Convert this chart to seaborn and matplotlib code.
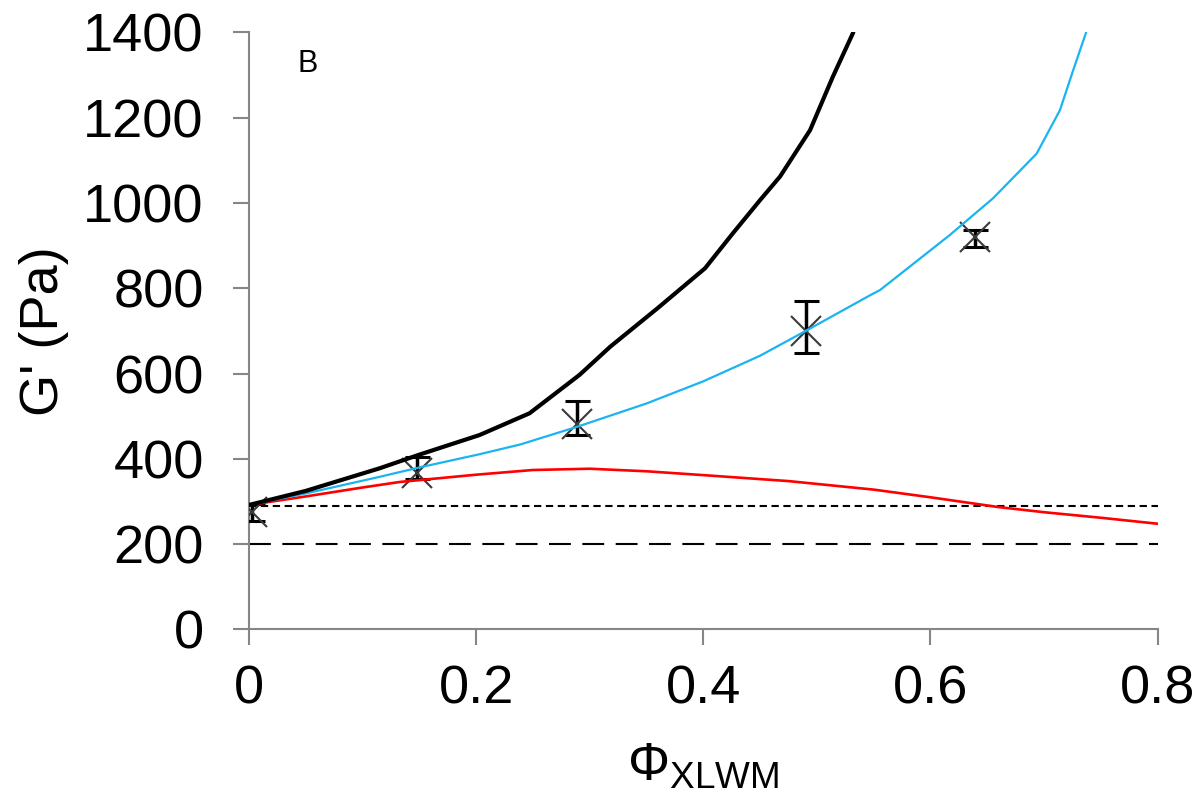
import matplotlib
matplotlib.use("Agg")
import matplotlib.pyplot as plt
import seaborn as sns
import pandas as pd

# Model curves: storage modulus G' (Pa) against volume fraction
black_x = [0.0, 0.05, 0.115, 0.15, 0.203, 0.247, 0.291, 0.318, 0.36, 0.4015, 0.426, 0.45, 0.4675, 0.494, 0.514, 0.532]
black_y = [292, 325, 378, 410, 456, 507, 597, 663, 754, 847, 929, 1007, 1062, 1171, 1296, 1400]

blue_x = [0.0, 0.05, 0.115, 0.15, 0.203, 0.239, 0.2885, 0.35, 0.40, 0.45, 0.488, 0.547, 0.5556, 0.617, 0.655, 0.6935, 0.714, 0.7257, 0.737]
blue_y = [292, 319, 358, 380, 411, 434, 475, 530, 582, 642, 697, 784, 796, 925, 1011, 1116, 1218, 1312, 1400]

red_x = [0.0, 0.05, 0.10, 0.133, 0.20, 0.25, 0.30, 0.35, 0.40, 0.475, 0.55, 0.60, 0.66, 0.70, 0.75, 0.80]
red_y = [292, 312, 333, 346, 363, 374, 377, 371, 362, 348, 328, 310, 287, 275, 262, 248]

# Reference levels
dotted_level = 290
dashed_level = 200
level_x = [0.0, 0.8]

# Measured points with asymmetric error bars
meas_x = [0.003, 0.148, 0.289, 0.490, 0.639]
meas_y = [275, 366, 483, 700, 920]
err_low = [20, 12, 27, 51, 23]
err_high = [20, 38, 52, 71, 16]

x_ticks = [0, 0.2, 0.4, 0.6, 0.8]
x_ticklabels = ["0", "0.2", "0.4", "0.6", "0.8"]
y_ticks = [0, 200, 400, 600, 800, 1000, 1200, 1400]

sns.set_style("white")
plt.rcParams["font.family"] = ["Liberation Sans", "DejaVu Sans"]
plt.rcParams["mathtext.fontset"] = "custom"
plt.rcParams["mathtext.rm"] = "Liberation Sans"
plt.rcParams["mathtext.default"] = "regular"
plt.rcParams["text.color"] = "black"
plt.rcParams["axes.labelcolor"] = "black"

fig = plt.figure(figsize=(12.04, 8.06), dpi=100)
ax = fig.add_axes([0.2068, 0.219, 0.9615 - 0.2068, 0.9597 - 0.219])

axis_grey = "#868686"

# Reference levels
sns.lineplot(x=level_x, y=[dotted_level, dotted_level], ax=ax, color="black",
             lw=1.5, zorder=2).lines[-1].set_dashes((3.5, 2.2))
sns.lineplot(x=level_x, y=[dashed_level, dashed_level], ax=ax, color="black",
             lw=1.5, zorder=2).lines[-1].set_dashes((10.5, 5.5))

# Measured points
ax.errorbar(meas_x, meas_y, yerr=[err_low, err_high], fmt="none",
            ecolor="black", elinewidth=2.5, capsize=9, capthick=2.2, zorder=3)
ax.plot(meas_x, meas_y, linestyle="none", marker="x", ms=21, mew=1.5,
        color="#3a3a3a", zorder=3)

# Model curves
df_red = pd.DataFrame({"phi": red_x, "G": red_y})
df_blue = pd.DataFrame({"phi": blue_x, "G": blue_y})
df_black = pd.DataFrame({"phi": black_x, "G": black_y})
sns.lineplot(data=df_red, x="phi", y="G", ax=ax, color="#ff0000", lw=1.9,
             sort=False, zorder=4)
sns.lineplot(data=df_blue, x="phi", y="G", ax=ax, color="#1ab4f0", lw=1.6,
             sort=False, zorder=4)
sns.lineplot(data=df_black, x="phi", y="G", ax=ax, color="black", lw=3.0,
             sort=False, zorder=5)

ax.set_xlim(0, 0.8)
ax.set_ylim(0, 1400)
ax.set_xticks(x_ticks)
ax.set_xticklabels(x_ticklabels)
ax.set_yticks(y_ticks)

for side in ("top", "right"):
    ax.spines[side].set_visible(False)
for side in ("left", "bottom"):
    ax.spines[side].set_color(axis_grey)
    ax.spines[side].set_linewidth(1.5)

ax.tick_params(axis="both", direction="out", length=11.5, width=1.5,
               color=axis_grey, labelsize=39, labelcolor="black",
               bottom=True, left=True)
ax.tick_params(axis="y", pad=21)
ax.tick_params(axis="x", pad=14)

ax.set_ylabel("G' (Pa)", fontsize=39, labelpad=10, color="black")
ax.set_xlabel(r"Φ$_{XLWM}$", fontsize=38, labelpad=19, color="black")

ax.text(0.043, 1327, "B", fontsize=22, ha="left", va="center", color="black")

fig.savefig("out.png", dpi=100)
